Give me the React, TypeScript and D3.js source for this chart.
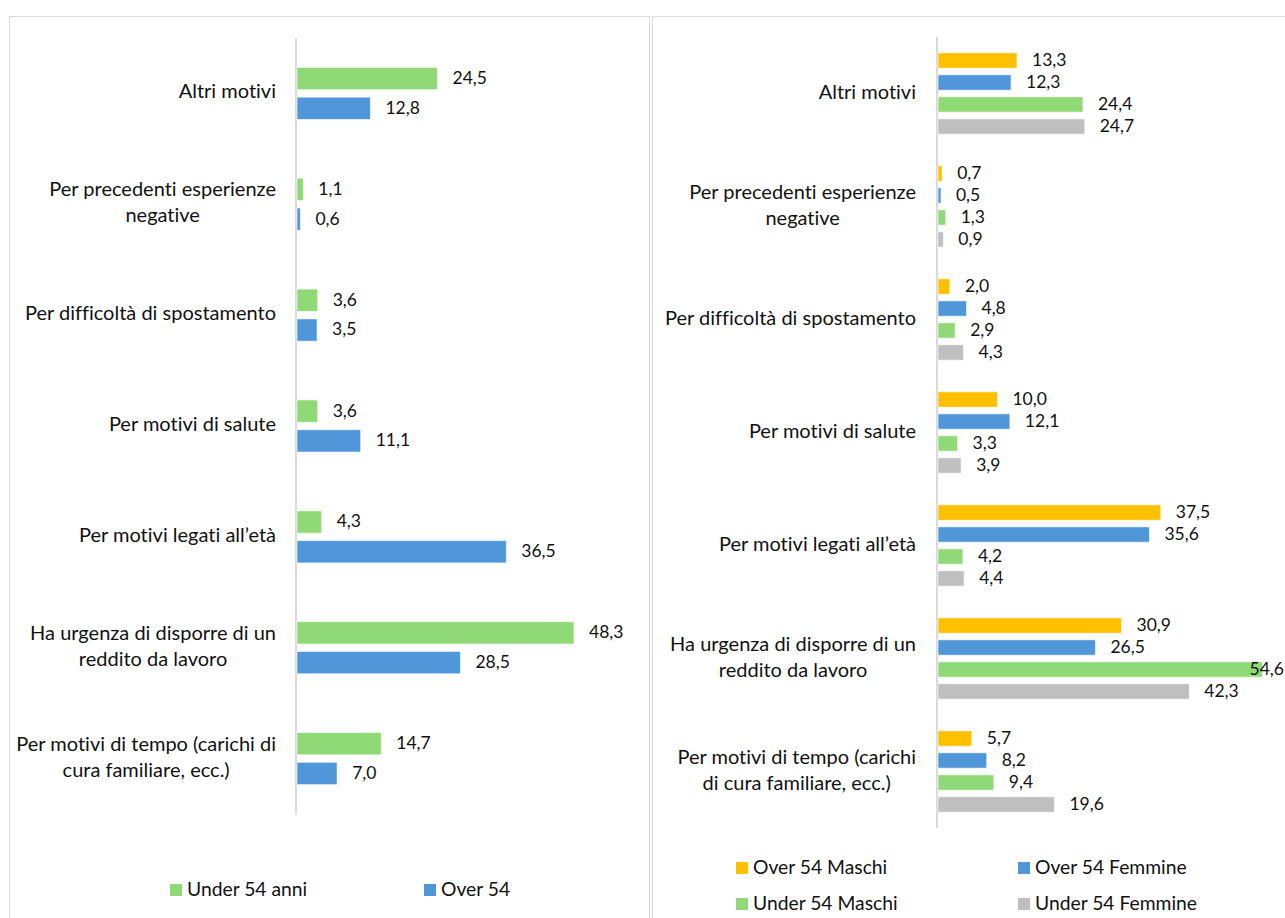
import React, { useEffect, useRef } from "react";
import * as d3 from "d3";

const leftCategories = [
  "Altri motivi",
  "Per precedenti esperienze\nnegative",
  "Per difficoltà di spostamento",
  "Per motivi di salute",
  "Per motivi legati all’età",
  "Ha urgenza di disporre di un\nreddito da lavoro",
  "Per motivi di tempo (carichi di\ncura familiare, ecc.)",
];
const rightCategories = [
  "Altri motivi",
  "Per precedenti esperienze\nnegative",
  "Per difficoltà di spostamento",
  "Per motivi di salute",
  "Per motivi legati all’età",
  "Ha urgenza di disporre di un\nreddito da lavoro",
  "Per motivi di tempo (carichi\ndi cura familiare, ecc.)",
];

const leftSeriesNames = ["Under 54 anni", "Over 54"];
const under54Anni = [24.5, 1.1, 3.6, 3.6, 4.3, 48.3, 14.7];
const over54 = [12.8, 0.6, 3.5, 11.1, 36.5, 28.5, 7.0];

const rightSeriesNames = ["Over 54 Maschi", "Over 54 Femmine", "Under 54 Maschi", "Under 54 Femmine"];
const over54Maschi = [13.3, 0.7, 2.0, 10.0, 37.5, 30.9, 5.7];
const over54Femmine = [12.3, 0.5, 4.8, 12.1, 35.6, 26.5, 8.2];
const under54Maschi = [24.4, 1.3, 2.9, 3.3, 4.2, 54.6, 9.4];
const under54Femmine = [24.7, 0.9, 4.3, 3.9, 4.4, 42.3, 19.6];

const GREEN = "#90D977";
const BLUE = "#5097DA";
const ORANGE = "#FFC000";
const GRAY = "#BFBFBF";
const FONT = "Lato, 'Open Sans', sans-serif";
const FS_VAL = 17.5;
const FS_CAT = 20;
const FS_LEG = 19.3;
const TXT = "#111";

const fmt = (v: number) => v.toFixed(1).replace(".", ",");

type PanelCfg = {
  categories: string[];
  series: number[][];
  colors: string[];
  axisX: number;
  xMax: number;
  xRight: number;
  yTop: number;
  yBottom: number;
  groupPad: number;
  barPad: number;
  labelRight: number;
  clampRight: number;
};

function drawPanel(g: d3.Selection<SVGGElement, unknown, null, undefined>, cfg: PanelCfg) {
  const x = d3.scaleLinear().domain([0, cfg.xMax]).range([cfg.axisX, cfg.xRight]);
  const y = d3
    .scaleBand<string>()
    .domain(cfg.categories)
    .range([cfg.yTop, cfg.yBottom])
    .paddingInner(cfg.groupPad)
    .paddingOuter(cfg.groupPad / 2);
  const inner = d3
    .scaleBand<number>()
    .domain(d3.range(cfg.series.length))
    .range([0, y.bandwidth()])
    .paddingInner(cfg.barPad);

  g.append("line")
    .attr("x1", cfg.axisX)
    .attr("x2", cfg.axisX)
    .attr("y1", cfg.yTop)
    .attr("y2", cfg.yBottom)
    .attr("stroke", "#D9D9D9")
    .attr("stroke-width", 2);

  cfg.series.forEach((vals, si) => {
    vals.forEach((v, ci) => {
      const cat = cfg.categories[ci];
      const y0 = (y(cat) as number) + (inner(si) as number);
      const h = inner.bandwidth();
      g.append("rect")
        .attr("x", x(0) + 1)
        .attr("y", y0)
        .attr("width", Math.max(0, x(v) - x(0)))
        .attr("height", h)
        .attr("fill", cfg.colors[si])
        .attr("stroke", "#ffffff")
        .attr("stroke-opacity", 0.6)
        .attr("stroke-width", 1);
      const t = g
        .append("text")
        .attr("x", x(v) + 16)
        .attr("y", y0 + h / 2 + 1)
        .attr("dominant-baseline", "middle")
        .attr("font-family", FONT)
        .attr("font-size", FS_VAL)
        .attr("fill", TXT)
        .text(fmt(v));
      const w = (t.node() as SVGTextElement).getComputedTextLength();
      if (x(v) + 16 + w > cfg.clampRight) t.attr("x", cfg.clampRight - w);
    });
  });

  cfg.categories.forEach((cat) => {
    const lines = cat.split("\n");
    const cy = (y(cat) as number) + y.bandwidth() / 2;
    const lh = 26;
    const texts = lines.map((ln, i) =>
      g
        .append("text")
        .attr("y", cy + (i - (lines.length - 1) / 2) * lh)
        .attr("dominant-baseline", "middle")
        .attr("text-anchor", "middle")
        .attr("font-family", FONT)
        .attr("font-size", FS_CAT)
        .style("font-variant-ligatures", "none")
        .attr("fill", TXT)
        .text(ln)
    );
    const widths = texts.map((t) => (t.node() as SVGTextElement).getComputedTextLength());
    const maxW = Math.max(...widths);
    const center = cfg.labelRight - maxW / 2;
    texts.forEach((t) => t.attr("x", center));
  });
}

function legendItem(g: d3.Selection<SVGGElement, unknown, null, undefined>, x: number, y: number, color: string, label: string) {
  g.append("rect").attr("x", x).attr("y", y - 6).attr("width", 12).attr("height", 12).attr("fill", color);
  g.append("text")
    .attr("x", x + 17)
    .attr("y", y + 1)
    .attr("dominant-baseline", "middle")
    .attr("font-family", FONT)
    .attr("font-size", FS_LEG)
    .style("font-variant-ligatures", "none")
    .attr("fill", TXT)
    .text(label);
}

export default function App() {
  const ref = useRef<SVGSVGElement>(null);
  useEffect(() => {
    const svg = d3.select(ref.current as SVGSVGElement);
    svg.selectAll("*").remove();
    svg.append("rect").attr("width", 1285).attr("height", 918).attr("fill", "#fff");

    svg.append("rect").attr("x", 9.5).attr("y", 16.5).attr("width", 640).attr("height", 920)
      .attr("fill", "none").attr("stroke", "#D9D9D9");
    svg.append("rect").attr("x", 652.5).attr("y", 16.5).attr("width", 650).attr("height", 920)
      .attr("fill", "none").attr("stroke", "#D9D9D9");

    const gl = svg.append("g");
    drawPanel(gl, {
      categories: leftCategories,
      series: [under54Anni, over54],
      colors: [GREEN, BLUE],
      axisX: 296,
      xMax: 60,
      xRight: 296 + 60 * 5.735,
      yTop: 38,
      yBottom: 814,
      groupPad: 0.53,
      barPad: 0.25,
      labelRight: 276,
      clampRight: 645,
    });
    const gr = svg.append("g");
    drawPanel(gr, {
      categories: rightCategories,
      series: [over54Maschi, over54Femmine, under54Maschi, under54Femmine],
      colors: [ORANGE, BLUE, GREEN, GRAY],
      axisX: 937,
      xMax: 60,
      xRight: 937 + 60 * 5.94,
      yTop: 37,
      yBottom: 828,
      groupPad: 0.28,
      barPad: 0.3,
      labelRight: 916,
      clampRight: 1284,
    });

    const lg = svg.append("g");
    legendItem(lg, 170, 890, GREEN, leftSeriesNames[0]);
    legendItem(lg, 424, 890, BLUE, leftSeriesNames[1]);
    legendItem(lg, 736, 868, ORANGE, rightSeriesNames[0]);
    legendItem(lg, 1018, 868, BLUE, rightSeriesNames[1]);
    legendItem(lg, 736, 904, GREEN, rightSeriesNames[2]);
    legendItem(lg, 1018, 904, GRAY, rightSeriesNames[3]);
  }, []);
  return (
    <svg
      ref={ref}
      width={1285}
      height={918}
      style={{ position: "absolute", left: 0, top: 0, display: "block" }}
    />
  );
}
